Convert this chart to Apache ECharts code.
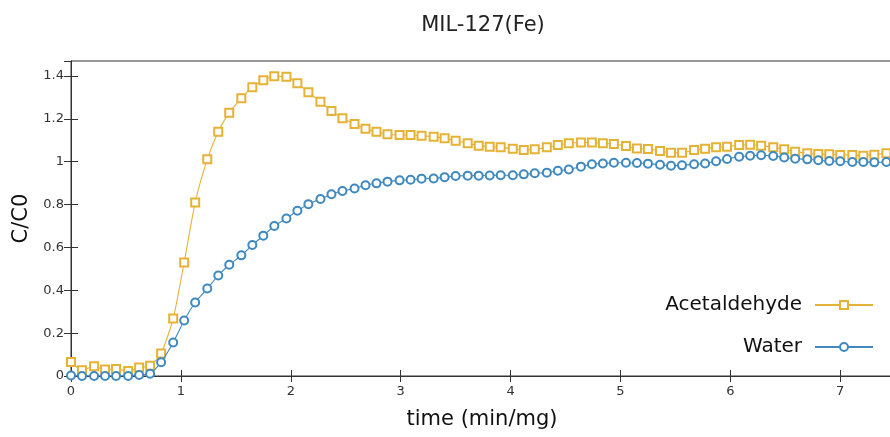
<!DOCTYPE html>
<html>
<head>
<meta charset="utf-8">
<script src="https://cdn.jsdelivr.net/npm/echarts@6/dist/echarts.min.js"></script>
<style>
html,body{margin:0;padding:0;background:#fff;}
#chart{width:890px;height:437px;}
</style>
</head>
<body>
<div id="chart"></div>
<script>
var timeValues = [0, 0.10, 0.21, 0.31, 0.41, 0.52, 0.62, 0.72, 0.82, 0.93,
  1.03, 1.13, 1.24, 1.34, 1.44, 1.55, 1.65, 1.75, 1.85, 1.96,
  2.06, 2.16, 2.27, 2.37, 2.47, 2.58, 2.68, 2.78, 2.88, 2.99,
  3.09, 3.19, 3.30, 3.40, 3.50, 3.61, 3.71, 3.81, 3.91, 4.02,
  4.12, 4.22, 4.33, 4.43, 4.53, 4.64, 4.74, 4.84, 4.94, 5.05,
  5.15, 5.25, 5.36, 5.46, 5.56, 5.67, 5.77, 5.87, 5.97, 6.08,
  6.18, 6.28, 6.39, 6.49, 6.59, 6.70, 6.80, 6.90, 7.00, 7.11,
  7.21, 7.31, 7.42];

var acetaldehyde = [0.065, 0.027, 0.045, 0.030, 0.033, 0.023, 0.040, 0.048, 0.105, 0.268,
  0.530, 0.810, 1.011, 1.140, 1.229, 1.296, 1.348, 1.380, 1.399, 1.397,
  1.366, 1.324, 1.280, 1.237, 1.203, 1.176, 1.154, 1.140, 1.128, 1.125,
  1.125, 1.121, 1.117, 1.109, 1.098, 1.086, 1.075, 1.070, 1.067, 1.061,
  1.055, 1.058, 1.067, 1.078, 1.086, 1.090, 1.090, 1.086, 1.083, 1.073,
  1.062, 1.059, 1.050, 1.042, 1.042, 1.055, 1.061, 1.067, 1.070, 1.078,
  1.079, 1.075, 1.067, 1.058, 1.047, 1.039, 1.036, 1.035, 1.031, 1.031,
  1.028, 1.033, 1.039];

var water = [0.002, 0.000, 0.000, 0.000, 0.000, 0.000, 0.005, 0.011, 0.064, 0.156,
  0.259, 0.343, 0.408, 0.469, 0.519, 0.563, 0.611, 0.655, 0.700, 0.735,
  0.771, 0.802, 0.826, 0.848, 0.863, 0.875, 0.890, 0.899, 0.907, 0.913,
  0.916, 0.921, 0.922, 0.928, 0.933, 0.935, 0.935, 0.936, 0.937, 0.937,
  0.941, 0.946, 0.949, 0.958, 0.964, 0.977, 0.988, 0.992, 0.995, 0.995,
  0.994, 0.991, 0.986, 0.981, 0.983, 0.988, 0.992, 1.002, 1.013, 1.023,
  1.028, 1.030, 1.027, 1.020, 1.014, 1.011, 1.007, 1.003, 1.002, 0.999,
  0.999, 0.997, 0.999];

var seriesNames = ['Acetaldehyde', 'Water'];
var titleText = 'MIL-127(Fe)';
var xAxisName = 'time (min/mg)';
var yAxisName = 'C/C0';

function pairs(xs, ys) {
  return xs.map(function (x, i) { return [x, ys[i]]; });
}

var FONT = 'DejaVu Sans';
var AXC = '#333';
var GOLD = '#e6b235';
var BLUE = '#3f89bf';

var chart = echarts.init(document.getElementById('chart'), null, {renderer: 'canvas'});
chart.setOption({
  backgroundColor: '#fff',
  animation: false,
  title: {
    text: titleText,
    left: 478,
    top: 10,
    textAlign: 'center',
    textStyle: {fontFamily: FONT, fontSize: 21, fontWeight: 'normal', color: '#222'}
  },
  grid: {left: 71, width: 822, top: 61, height: 315, outerBoundsMode: 'none', containLabel: false,
    show: true, borderColor: AXC, borderWidth: 1, backgroundColor: 'transparent'},
  legend: [{
    data: [seriesNames[0]],
    orient: 'vertical', right: 16, top: 293, padding: 0,
    align: 'right', itemWidth: 58, itemHeight: 10,
    textStyle: {fontFamily: FONT, fontSize: 20, color: '#111', padding: [0, 8, 0, 0], lineHeight: 24}
  }, {
    data: [seriesNames[1]],
    orient: 'vertical', right: 16, top: 335, padding: 0,
    align: 'right', itemWidth: 58, itemHeight: 10,
    textStyle: {fontFamily: FONT, fontSize: 20, color: '#111', padding: [0, 8, 0, 0], lineHeight: 24}
  }],
  xAxis: [{
    type: 'value', min: 0, max: 7.48, interval: 1,
    name: xAxisName, nameLocation: 'middle', nameGap: 33,
    nameTextStyle: {fontFamily: FONT, fontSize: 21, color: '#111'},
    axisLine: {show: true, onZero: false, lineStyle: {color: AXC, width: 1}},
    axisTick: {show: true, inside: true, length: 6, lineStyle: {color: AXC}},
    axisLabel: {fontFamily: FONT, fontSize: 13, color: '#333', margin: 9, showMaxLabel: false},
    splitLine: {show: false}
  }, {
    type: 'value', min: 0, max: 7.48, interval: 1, position: 'top',
    axisLine: {show: true, lineStyle: {color: AXC, width: 1}},
    axisTick: {show: true, inside: true, length: 6, lineStyle: {color: AXC}},
    axisLabel: {show: false},
    splitLine: {show: false}
  }],
  yAxis: [{
    type: 'value', min: 0, max: 1.47, interval: 0.2,
    name: yAxisName, nameLocation: 'middle', nameGap: 35, nameRotate: 90,
    nameTextStyle: {fontFamily: FONT, fontSize: 21, color: '#111'},
    axisLine: {show: true, onZero: false, lineStyle: {color: AXC, width: 1}},
    axisTick: {show: true, inside: true, length: 7, lineStyle: {color: AXC}},
    axisLabel: {fontFamily: FONT, fontSize: 13, color: '#333', margin: 7, showMaxLabel: false},
    splitLine: {show: false}
  }, {
    type: 'value', min: 0, max: 1.47, interval: 0.2, position: 'right',
    axisLine: {show: true, lineStyle: {color: AXC, width: 1}},
    axisTick: {show: true, inside: true, length: 7, lineStyle: {color: AXC}},
    axisLabel: {show: false},
    splitLine: {show: false}
  }],
  series: [{
    name: seriesNames[0], type: 'line', xAxisIndex: 0, yAxisIndex: 0,
    data: pairs(timeValues, acetaldehyde),
    smooth: 0.2, symbol: 'emptyRect', symbolSize: 8,
    lineStyle: {color: GOLD, width: 1.1},
    itemStyle: {color: GOLD, borderWidth: 1},
    z: 3
  }, {
    name: seriesNames[1], type: 'line', xAxisIndex: 0, yAxisIndex: 0,
    data: pairs(timeValues, water),
    smooth: 0.2, symbol: 'emptyCircle', symbolSize: 8,
    lineStyle: {color: BLUE, width: 1.1},
    itemStyle: {color: BLUE, borderWidth: 1},
    z: 4
  }]
});
</script>
</body>
</html>
